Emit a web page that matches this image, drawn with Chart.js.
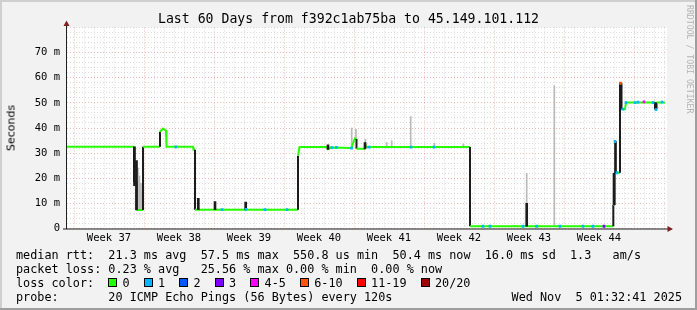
<!DOCTYPE html>
<html>
<head>
<meta charset="utf-8">
<script src="https://cdn.jsdelivr.net/npm/chart.js@4.4.1/dist/chart.umd.min.js"></script>
<style>
  body { margin: 0; background: #f2f2f2; }
  #wrap { position: relative; width: 697px; height: 310px; overflow: hidden; }
  #c { position: absolute; left: 0; top: 0; }
  .mono { font-family: 'DejaVu Sans Mono', monospace; color: #000; white-space: pre; position: absolute; }
  #title { left: 0; width: 697px; text-align: center; top: 11.4px; font-size: 13.2px; line-height: 16px; }
  #ylab { position: absolute; left: 11px; top: 127.5px; font-family: 'DejaVu Sans', sans-serif; font-size: 11px;
          color: #000; white-space: nowrap; transform: translate(-50%, -50%) rotate(-90deg); }
  #credit { left: 684.5px; top: 5px; font-size: 8.2px; color: #b4b4b4; writing-mode: vertical-rl; line-height: 9px; }
  .foot { left: 16px; font-size: 11.8px; line-height: 14px; }
  .box { display: inline-block; width: 7px; height: 7px; border: 1px solid #000; margin-right: 5.2px; vertical-align: -0.5px; }
  #date { right: 15px; left: auto; }
</style>
</head>
<body>
<div id="wrap">
  <canvas id="c" width="697" height="310"></canvas>
  <div id="title" class="mono">Last 60 Days from f392c1ab75ba to 45.149.101.112</div>
  <div id="ylab">Seconds</div>
  <div id="credit" class="mono">RRDTOOL / TOBI OETIKER</div>
  <div class="mono foot" style="top:247.5px">median rtt:  21.3 ms avg  57.5 ms max  550.8 us min  50.4 ms now  16.0 ms sd  1.3   am/s</div>
  <div class="mono foot" style="top:261.5px">packet loss: 0.23 % avg   25.56 % max 0.00 % min  0.00 % now</div>
  <div class="mono foot" id="losslegend" style="top:275.5px"></div>
  <div class="mono foot" style="top:289.5px">probe:       20 ICMP Echo Pings (56 Bytes) every 120s</div>
  <div class="mono foot" id="date" style="top:289.5px">Wed Nov  5 01:32:41 2025</div>
</div>
<script>
// x values are days since the start of the 60 day window
const weekLabels = ['Week 37', 'Week 38', 'Week 39', 'Week 40', 'Week 41', 'Week 42', 'Week 43', 'Week 44'];
const weekMid = [4.2, 11.2, 18.2, 25.2, 32.2, 39.2, 46.2, 53.2];
const yTickValues = [0, 10, 20, 30, 40, 50, 60, 70];
const yTickLabels = ['0', '10 m', '20 m', '30 m', '40 m', '50 m', '60 m', '70 m'];

const lossLabels = ['0', '1', '2', '3', '4-5', '6-10', '11-19', '20/20'];
const lossColors = ['#26ff00', '#00b8ff', '#0059ff', '#7e00ff', '#ff00ff', '#ff5500', '#ff0000', '#a10000'];

// median rtt (ms)
const medianX = [0, 6.7, 6.7, 6.95, 6.95, 7.6, 7.6, 9.3, 9.3, 9.6, 9.9, 9.95, 12.6, 12.65, 12.8, 12.8,
  23.1, 23.1, 23.25, 26.0, 26.1, 26.35, 28.45, 28.6, 28.8, 28.95, 28.95, 29.8, 29.8, 29.95, 40.3, 40.3,
  54.63, 54.63, 54.75, 54.75, 55.3, 55.3, 55.45, 55.45, 55.8, 55.9, 58.8, 58.8, 58.95, 58.95, 59.8];
const medianY = [32.5, 32.5, 18.5, 18.5, 7.4, 7.4, 32.5, 32.5, 38.5, 39.8, 39.0, 32.5, 32.5, 31.3, 31.3, 7.5,
  7.5, 29, 32.4, 32.4, 31.6, 32.2, 32.0, 34, 35.9, 35.6, 31.7, 31.7, 33.6, 32.4, 32.4, 0.9,
  0.9, 9.4, 9.4, 22.2, 22.2, 57.8, 57.8, 47.5, 47.5, 50.1, 50.1, 47.5, 47.5, 50.1, 50.1];

// dark smoke columns
const darkX = [6.75, 6.95, 13.13, 14.8, 17.87, 26.1, 29.8, 45.97, 54.7, 54.85, 55.35, 58.87];
const darkLo = [17, 7.4, 7.5, 7.5, 7.5, 31.5, 31.7, 0.9, 9.4, 22, 47.5, 47.5];
const darkHi = [32.5, 27, 12, 10.7, 10.5, 33.3, 34.2, 10, 22, 34.6, 58, 50];

// light smoke columns
const smokeX = [7.1, 7.25, 7.4, 7.5, 28.47, 28.9, 29.85, 31.97, 32.47, 34.37, 36.73, 39.63, 45.97, 48.73];
const smokeLo = [7.4, 7.4, 7.4, 7.4, 32, 35.9, 33, 32.4, 32.4, 32.4, 32.4, 32.4, 10, 0.9];
const smokeHi = [24, 21, 18, 14, 40, 39.5, 35.5, 34.2, 34.9, 44.5, 33.9, 33.7, 22, 56.8];

// loss colour marks on the median line
const lossX = [10.9, 15.5, 17.9, 19.8, 22.0, 26.5, 26.95, 28.45, 30.2, 34.4, 36.7,
  41.6, 42.3, 45.6, 46.97, 49.3, 51.6, 52.6, 53.7,
  54.8, 55.0, 55.35, 55.6, 55.9, 56.8, 57.1, 57.7, 58.6, 58.9, 59.5];
const lossY = [32.5, 7.5, 7.6, 7.5, 7.5, 32.2, 32.3, 32.0, 32.4, 32.4, 32.4,
  0.9, 0.9, 0.9, 0.9, 0.9, 0.9, 0.9, 0.9,
  34.6, 22.2, 57.8, 47.5, 50.1, 50.1, 50.3, 50.4, 50.1, 47.3, 50.3];
const lossLevel = [1, 1, 1, 1, 1, 1, 1, 1, 1, 1, 1,
  1, 1, 1, 1, 1, 1, 1, 3,
  1, 1, 5, 1, 1, 1, 1, 4, 1, 1, 1];

// loss colour legend
const lg = document.getElementById('losslegend');
let html = 'loss color:  ';
lossLabels.forEach((l, i) => {
  html += '<span class="box" style="background:' + lossColors[i] + '"></span>' + l + '  ';
});
lg.innerHTML = html;

const GREEN = lossColors[0];
const DARK = '#1c1c1c';
const MGRID = 'rgba(222,79,79,0.4)';
const GRID = 'rgba(143,143,143,0.32)';

const rrdPlugin = {
  id: 'rrd',
  beforeDraw(chart) {
    const { ctx, chartArea: a } = chart;
    ctx.save();
    ctx.fillStyle = '#f2f2f2';
    ctx.fillRect(0, 0, chart.width, chart.height);
    ctx.fillStyle = '#ffffff';
    ctx.fillRect(a.left, a.top, a.right - a.left, a.bottom - a.top);
    ctx.restore();
  },
  afterDatasetsDraw(chart) {
    const { ctx, chartArea: a } = chart;
    ctx.save();
    ctx.strokeStyle = '#1f1f1f';
    ctx.lineWidth = 1;
    ctx.beginPath();
    ctx.moveTo(a.left - 0.5, a.bottom + 0.5);
    ctx.lineTo(a.left - 0.5, a.top - 3);
    ctx.moveTo(a.left - 4, a.bottom + 0.5);
    ctx.lineTo(a.right + 1, a.bottom + 0.5);
    ctx.stroke();
    ctx.fillStyle = '#7f1f1f';
    ctx.beginPath();
    ctx.moveTo(a.left - 0.5, a.top - 7);
    ctx.lineTo(a.left - 3.5, a.top - 1.5);
    ctx.lineTo(a.left + 2.5, a.top - 1.5);
    ctx.closePath();
    ctx.fill();
    ctx.beginPath();
    ctx.moveTo(a.right + 6, a.bottom + 0.5);
    ctx.lineTo(a.right + 0.5, a.bottom - 2.5);
    ctx.lineTo(a.right + 0.5, a.bottom + 3.5);
    ctx.closePath();
    ctx.fill();
    ctx.restore();
  },
  afterDraw(chart) {
    const ctx = chart.ctx, w = chart.width, h = chart.height;
    ctx.save();
    ctx.fillStyle = '#cfcfcf';
    ctx.fillRect(0, 0, w, 2);
    ctx.fillRect(0, 0, 2, h);
    ctx.fillStyle = '#9e9e9e';
    ctx.fillRect(0, h - 2, w, 2);
    ctx.fillRect(w - 2, 0, 2, h);
    ctx.restore();
  }
};

const xGrid = [];
for (let k = 0; k < 60; k++) xGrid.push(0.7 + k);

new Chart(document.getElementById('c'), {
  type: 'line',
  data: {
    datasets: [
      {
        type: 'bar',
        data: smokeX.map((x, i) => ({ x: x, y: [smokeLo[i], smokeHi[i]] })),
        backgroundColor: '#b9b9b9',
        barThickness: 1,
        grouped: false,
        order: 4
      },
      {
        type: 'line',
        data: medianX.map((x, i) => ({ x: x, y: medianY[i] })),
        borderColor: GREEN,
        borderWidth: 2,
        pointRadius: 0,
        tension: 0,
        segment: {
          borderColor: c => c.p0.parsed.x === c.p1.parsed.x ? DARK : GREEN
        },
        order: 3
      },
      {
        type: 'bar',
        data: darkX.map((x, i) => ({ x: x, y: [darkLo[i], darkHi[i]] })),
        backgroundColor: DARK,
        barThickness: 2,
        grouped: false,
        order: 2
      },
      {
        type: 'bar',
        data: lossX.map((x, i) => ({ x: x, y: [lossY[i] - 0.45, lossY[i] + 0.45] })),
        backgroundColor: lossX.map((x, i) => lossColors[lossLevel[i]]),
        barThickness: 2,
        grouped: false,
        order: 1
      }
    ]
  },
  options: {
    responsive: false,
    animation: false,
    devicePixelRatio: 1,
    layout: { padding: { top: 27.5, right: 30, bottom: 0, left: 0 } },
    plugins: { legend: { display: false }, title: { display: false }, tooltip: { enabled: false } },
    scales: {
      x: {
        type: 'linear',
        min: 0,
        max: 60,
        offset: false,
        afterFit: s => { s.height = 81.5; },
        afterBuildTicks: s => {
          s.ticks = xGrid.concat(weekMid).sort((a, b) => a - b).map(v => ({ value: v }));
        },
        ticks: {
          autoSkip: false,
          maxRotation: 0,
          padding: 3,
          color: '#000',
          font: { family: 'DejaVu Sans Mono', size: 10.5 },
          callback: v => {
            const i = weekMid.indexOf(v);
            return i >= 0 ? weekLabels[i] : '';
          }
        },
        grid: {
          drawTicks: false,
          offset: false,
          lineWidth: 1,
          color: c => {
            const v = c.tick ? c.tick.value : -1;
            if (weekMid.indexOf(v) >= 0) return 'rgba(0,0,0,0)';
            const k = Math.round(v - 0.7);
            return k % 7 === 0 ? MGRID : GRID;
          }
        },
        border: { display: false, dash: [1, 2] }
      },
      y: {
        type: 'linear',
        min: 0,
        max: 80,
        afterFit: s => { s.width = 67; },
        afterBuildTicks: s => {
          const t = [];
          for (let v = 0; v <= 80; v += 2) t.push({ value: v });
          s.ticks = t;
        },
        ticks: {
          autoSkip: false,
          padding: 7,
          color: '#000',
          font: { family: 'DejaVu Sans Mono', size: 10.5 },
          callback: v => {
            const i = yTickValues.indexOf(v);
            return i >= 0 ? yTickLabels[i] : '';
          }
        },
        grid: {
          drawTicks: false,
          lineWidth: 1,
          color: c => {
            const v = c.tick ? c.tick.value : -1;
            return (v % 10 === 0 && v < 80) ? MGRID : GRID;
          }
        },
        border: { display: false, dash: [1, 2] }
      }
    }
  },
  plugins: [rrdPlugin]
});
</script>
</body>
</html>
